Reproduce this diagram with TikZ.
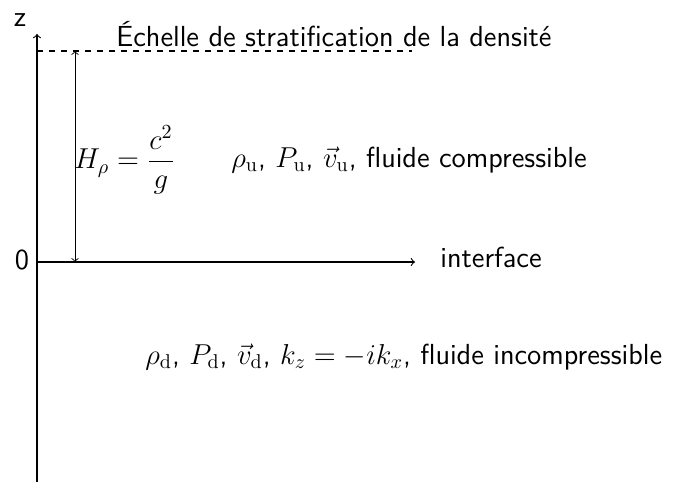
\documentclass[tikz,border=0pt]{standalone}
\usepackage{amsmath}
\begin{document}
\begin{tikzpicture}[x=0.5pt,y=0.5pt,
  lbl/.style={font=\sffamily\fontsize{14.5}{17}\selectfont, inner sep=0pt},
  axis/.style={->, line width=0.55pt},
  guide/.style={dashed, line width=0.55pt}]
\useasboundingbox (0,0) rectangle (686,482);
% axes
\coordinate (o) at (37,220);
\coordinate (bot) at (37,0);
\coordinate (ztip) at (37,448);
\coordinate (xtip) at (415,220);
\coordinate (hs) at (37,431);
\coordinate (he) at (412,431);
\coordinate (ha) at (75,431);
\coordinate (hb) at (75,220);
\draw[axis] (bot) -- (ztip);
\draw[axis] (o) -- (xtip);
\draw[guide] (hs) -- (he);
\draw[<->, line width=0.45pt] (ha) -- (hb);
% labels
\node[lbl] (z) at (20,462) {z};
\node[lbl] (zero) at (22,222) {0};
\node[lbl, anchor=west] (iface) at (440,225) {interface};
\node[lbl] (title) at (334,448) {Échelle de stratification de la densité};
\node[lbl, anchor=west] (H) at (74,322) {$H_\rho=\dfrac{c^2}{g}$};
\node[lbl, anchor=west] (up) at (231,322) {$\rho_{\mathrm{u}}$, $P_{\mathrm{u}}$, $\vec{v}_{\mathrm{u}}$, fluide compressible};
\node[lbl, anchor=west] (down) at (145,125) {$\rho_{\mathrm{d}}$, $P_{\mathrm{d}}$, $\vec{v}_{\mathrm{d}}$, $k_z=-ik_x$, fluide incompressible};
\end{tikzpicture}
\end{document}
